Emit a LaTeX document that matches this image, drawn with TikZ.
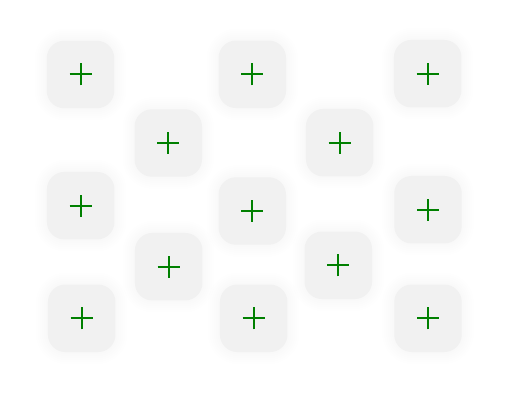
\documentclass[tikz,border=0pt]{standalone}
\definecolor{cellgray}{RGB}{241,241,241}
\definecolor{plusgreen}{RGB}{0,128,0}
\begin{document}
\begin{tikzpicture}[x=0.75pt,y=-0.75pt,
  cell/.style={draw=none, fill=cellgray, rounded corners=13pt,
    minimum width=50.6pt, minimum height=50.6pt, inner sep=0pt},
  plusline/.style={draw=plusgreen, line width=1.5pt}]
\useasboundingbox (0,0) rectangle (512,406);
\fill[white] (0,0) rectangle (512,406);
\foreach \n/\x/\y in {a/80.5/74.5, b/252.3/74.3, c/427.7/73.7,
  d/168.3/143, e/339.7/142.7,
  f/80.7/205.7, g/252.3/211, h/428/209.7,
  i/168.7/266.7, j/338.3/265.3,
  k/81.7/318.3, l/253.7/318.3, m/428/318.3} {
  \foreach \r in {1,...,6} {
    \pgfmathsetmacro\rc{13+1.6*\r}
    \pgfmathsetmacro\d{33.75+2*\r}
    \fill[black, opacity=0.004, rounded corners=\rc pt]
      (\x-\d, \y-\d) rectangle (\x+\d, \y+\d);
  }
  \node[cell] (\n) at (\x,\y) {};
  \draw[plusline] ([xshift=-8.25pt]\n.center) -- ([xshift=8.25pt]\n.center);
  \draw[plusline] ([yshift=-8.25pt]\n.center) -- ([yshift=8.25pt]\n.center);
}
\end{tikzpicture}
\end{document}
